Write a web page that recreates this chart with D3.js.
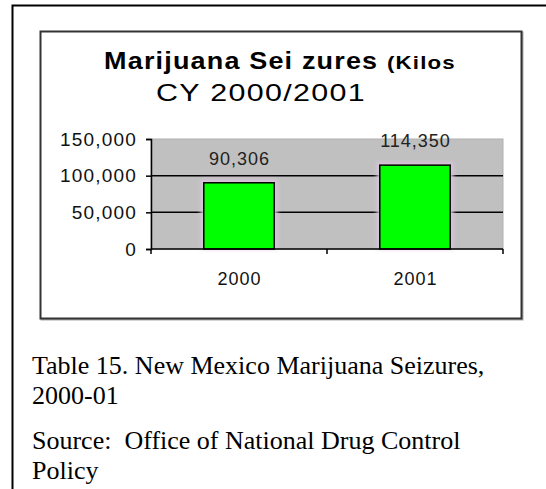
<!DOCTYPE html>
<html>
<head>
<meta charset="utf-8">
<script src="https://cdn.jsdelivr.net/npm/d3@7"></script>
<style>
body { margin: 0; background: #fff; }
svg text { white-space: pre; }
</style>
</head>
<body>
<script>
var width = 546,
  height = 489;

// data
var years = ["2000", "2001"];
var seizures = [90306, 114350];
var yTicks = [0, 50000, 100000, 150000];
var valueLabels = ["90,306", "114,350"];
var caption = [
  "Table 15. New Mexico Marijuana Seizures,",
  "2000-01",
  "Source:  Office of National Drug Control",
  "Policy"
];

var sans = "'Liberation Sans', Arial, sans-serif";

var svg = d3
  .select("body")
  .append("svg")
  .attr("width", width)
  .attr("height", height);

// the old chart font is wider than Arial: stretch a text to a width
function fitScale(sel, cx, cy, target) {
  var w = sel.node().getComputedTextLength();
  sel.attr("x", 0).attr("y", 0)
    .attr("transform", "translate(" + cx + "," + cy + ") scale(" + (target / w) + ",1)");
}

svg.append("defs")
  .append("filter")
  .attr("id", "halo")
  .attr("x", "-20%").attr("y", "-20%")
  .attr("width", "140%").attr("height", "140%")
  .append("feGaussianBlur")
  .attr("stdDeviation", 2);

// outer page frame (top + left only)
svg.append("path")
  .attr("d", "M12.5,489 V5.5 H546")
  .attr("fill", "none")
  .attr("stroke", "#000")
  .attr("stroke-width", 2);

// chart box
svg.append("rect")
  .attr("x", 41.5).attr("y", 32.5)
  .attr("width", 481).attr("height", 287)
  .attr("fill", "none")
  .attr("stroke", "#aaa")
  .attr("stroke-width", 2);
svg.append("rect")
  .attr("x", 40.5).attr("y", 31.5)
  .attr("width", 481).attr("height", 287)
  .attr("fill", "#fff")
  .attr("stroke", "#333")
  .attr("stroke-width", 2);

// title
var title = svg.append("text")
  .attr("text-anchor", "middle")
  .style("font-family", sans)
  .style("font-weight", "bold")
  .style("letter-spacing", "1px")
  .style("fill", "#000");
title.append("tspan")
  .style("font-size", "23px")
  .text("Marijuana Sei zures ");
title.append("tspan")
  .style("font-size", "19px")
  .text("(Kilos");
fitScale(title, 280, 69, 352);

var title2 = svg.append("text")
  .attr("text-anchor", "middle")
  .style("font-family", sans)
  .style("font-size", "23px")
  .style("letter-spacing", "1px")
  .style("fill", "#000")
  .text("CY 2000/2001");
fitScale(title2, 261, 101, 210);

// plot
var margin = { left: 151, right: 503, top: 139, bottom: 249 };

var x = d3.scaleBand()
  .domain(years)
  .range([margin.left, margin.right])
  .paddingInner(0.6)
  .paddingOuter(0.3);

var y = d3.scaleLinear()
  .domain([0, 150000])
  .range([margin.bottom, margin.top]);

svg.append("rect")
  .attr("x", margin.left)
  .attr("y", y(150000))
  .attr("width", margin.right - margin.left)
  .attr("height", y(0) - y(150000))
  .attr("fill", "#c0c0c0")
  .attr("stroke", "#b0b0b0")
  .attr("stroke-width", 1);

// gridlines
svg.append("g")
  .selectAll("line")
  .data(yTicks.filter(function (d) { return d > 0 && d < 150000; }))
  .enter()
  .append("line")
  .attr("x1", margin.left)
  .attr("x2", margin.right)
  .attr("y1", function (d) { return y(d); })
  .attr("y2", function (d) { return y(d); })
  .attr("stroke", "#000")
  .attr("stroke-width", 1.5);

// bar halos
svg.append("g")
  .selectAll("rect")
  .data(seizures)
  .enter()
  .append("rect")
  .attr("x", function (d, i) { return x(years[i]) - 3; })
  .attr("y", function (d) { return y(d) - 3; })
  .attr("width", x.bandwidth() + 6)
  .attr("height", function (d) { return y(0) - y(d) + 3; })
  .attr("fill", "#dcc3de")
  .attr("filter", "url(#halo)");

// bars
svg.append("g")
  .selectAll("rect")
  .data(seizures)
  .enter()
  .append("rect")
  .attr("x", function (d, i) { return x(years[i]); })
  .attr("y", function (d) { return y(d); })
  .attr("width", x.bandwidth())
  .attr("height", function (d) { return y(0) - y(d); })
  .attr("fill", "#00ff00")
  .attr("stroke", "#000")
  .attr("stroke-width", 1.5);

// value labels
svg.append("g")
  .selectAll("text")
  .data(seizures)
  .enter()
  .append("text")
  .attr("x", function (d, i) { return x(years[i]) + x.bandwidth() / 2 + 0.5; })
  .attr("y", function (d) { return y(d) - 18; })
  .attr("text-anchor", "middle")
  .style("font-family", sans)
  .style("font-size", "18px")
  .style("letter-spacing", "1px")
  .style("fill", "#222")
  .text(function (d, i) { return valueLabels[i]; });

// y axis
var yAxis = d3.axisLeft(y)
  .tickValues(yTicks)
  .tickSize(5)
  .tickPadding(9)
  .tickFormat(d3.format(","));

var gy = svg.append("g")
  .attr("transform", "translate(" + margin.left + ",0)")
  .call(yAxis);
gy.select(".domain").attr("stroke", "#000").attr("stroke-width", 1.5);
gy.selectAll(".tick line").attr("stroke", "#000").attr("stroke-width", 1.5);
gy.selectAll("text")
  .style("font-family", sans)
  .style("font-size", "19px")
  .style("letter-spacing", "1.2px")
  .style("fill", "#111");

// x axis: ticks on the category boundaries
var xAxis = svg.append("g");
xAxis.append("line")
  .attr("x1", margin.left)
  .attr("x2", margin.right)
  .attr("y1", y(0))
  .attr("y2", y(0))
  .attr("stroke", "#000")
  .attr("stroke-width", 1.5);
var edges = [margin.left].concat(years.map(function (d) {
  return x(d) + x.bandwidth() / 2 + x.step() / 2;
}));
xAxis.selectAll(".edge")
  .data(edges)
  .enter()
  .append("line")
  .attr("x1", function (d) { return d; })
  .attr("x2", function (d) { return d; })
  .attr("y1", y(0))
  .attr("y2", y(0) + 5)
  .attr("stroke", "#000")
  .attr("stroke-width", 1.5);
xAxis.selectAll("text")
  .data(years)
  .enter()
  .append("text")
  .attr("x", function (d) { return x(d) + x.bandwidth() / 2 + 0.5; })
  .attr("y", 285)
  .attr("text-anchor", "middle")
  .style("font-family", sans)
  .style("font-size", "18px")
  .style("letter-spacing", "1px")
  .style("fill", "#111")
  .text(function (d) { return d; });

// caption below the chart
var captionY = [374, 404, 449, 479];
svg.append("g")
  .selectAll("text")
  .data(caption)
  .enter()
  .append("text")
  .attr("x", 32)
  .attr("y", function (d, i) { return captionY[i]; })
  .style("font-family", "'Liberation Serif', 'Times New Roman', serif")
  .style("font-size", "26px")
  .style("fill", "#000")
  .text(function (d) { return d; });
</script>
</body>
</html>
